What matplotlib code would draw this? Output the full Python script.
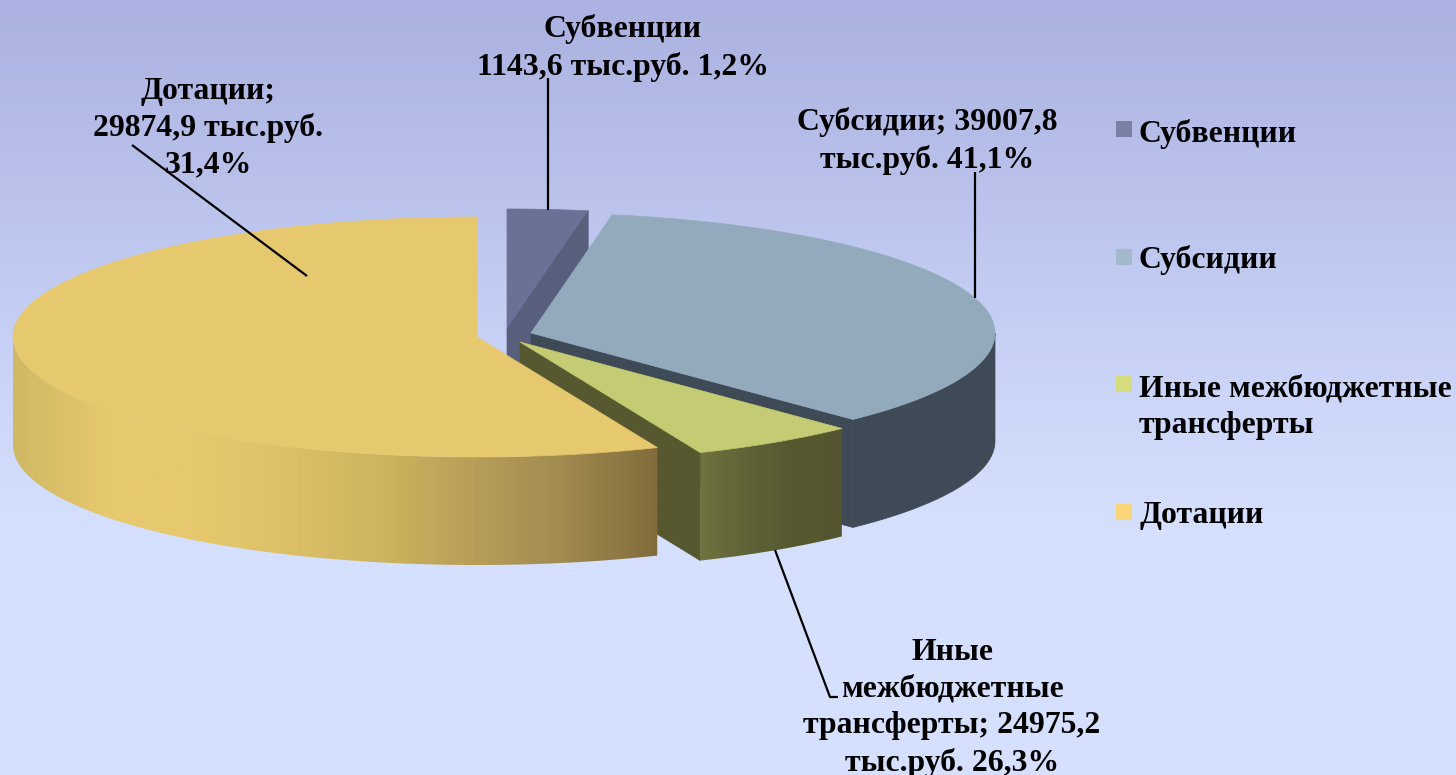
"""
3D-look exploded pie of budget transfers, drawn by hand since matplotlib has no such pie.
"""
import numpy as np
import matplotlib
matplotlib.use("Agg")
import matplotlib.pyplot as plt
from matplotlib.colors import LinearSegmentedColormap
from matplotlib.patches import Polygon, Rectangle

plt.rcParams["font.family"] = ["Liberation Serif", "DejaVu Serif"]

categories = ["Субвенции", "Субсидии", "Иные межбюджетные\nтрансферты", "Дотации"]
amounts = ["1143,6", "39007,8", "24975,2", "29874,9"]
percents = ["1,2%", "41,1%", "26,3%", "31,4%"]
# share of the circle each slice really takes on the picture (it differs from the labels)
drawn_shares = [2.8, 35.0, 5.85, 56.35]

top_colors = ["#6a7197", "#93aabd", "#c4cb73", "#e6c86e"]
cut_colors = ["#585f7d", "#3e4a55", "#585830", "#6e5c30"]
legend_colors = ["#7880a5", "#a3b8cb", "#d4dc7d", "#fad678"]

W, H = 1456, 775
RX, RY, DEPTH = 464, 120, 108
FONT = 22.9
apexes = [(507, 329), (531, 333), (520, 342), (477, 337)]


def arc(apex, a0, a1, drop=0):
    t = np.radians(np.linspace(a0, a1, 200))
    return np.column_stack([apex[0] + RX * np.cos(t), apex[1] - RY * np.sin(t) + drop])


def wall_points(apex, a0, a1):
    lo, hi = max(a0, a1), min(a0, a1)
    return np.vstack([arc(apex, lo, hi), arc(apex, hi, lo, DEPTH)])


def wall(ax, apex, a0, a1, stops):
    # outer wall of a slice, painted with a horizontal gradient
    pts = wall_points(apex, a0, a1)
    x0, x1 = pts[:, 0].min(), pts[:, 0].max()
    cmap = LinearSegmentedColormap.from_list("w", stops)
    im = ax.imshow(np.linspace(0, 1, 400)[None, :], cmap=cmap, aspect="auto", zorder=ax_z[0],
                   extent=(x0, x1, pts[:, 1].max(), pts[:, 1].min()))
    im.set_clip_path(Polygon(pts, transform=ax.transData))
    ax_z[0] += 1


def poly(ax, pts, color):
    ax.add_patch(Polygon(pts, closed=True, fc=color, ec=color, lw=0.5, zorder=ax_z[0]))
    ax_z[0] += 1


def cut(apex, angle):
    e = arc(apex, angle, angle)[0]
    return [apex, tuple(e), (e[0], e[1] + DEPTH), (apex[0], apex[1] + DEPTH)]


fig = plt.figure(figsize=(W / 100, H / 100), dpi=100)
ax = fig.add_axes([0, 0, 1, 1])
ax.axis("off")
ax_z = [2]

bg = LinearSegmentedColormap.from_list(
    "bg", [(0, "#abb2e1"), (0.13, "#b2bae6"), (0.5, "#cbd5f8"), (0.68, "#d5e0fe"), (1, "#d5e0fe")])
ax.imshow(np.linspace(0, 1, H)[:, None], cmap=bg, aspect="auto", extent=(0, W, H, 0), zorder=0)

edges = 90 - np.cumsum([0] + drawn_shares) * 3.6

# slice 0, at the back
a0, a1 = edges[0], edges[1]
poly(ax, np.vstack([[apexes[0]], arc(apexes[0], a0, a1)]), top_colors[0])
poly(ax, cut(apexes[0], a1), cut_colors[0])

# slice 1
a0, a1 = edges[1], edges[2]
poly(ax, cut(apexes[1], a1), cut_colors[1])
poly(ax, wall_points(apexes[1], 0, a1), cut_colors[1])
poly(ax, np.vstack([[apexes[1]], arc(apexes[1], a0, a1)]), top_colors[1])

# slice 2
a0, a1 = edges[2], edges[3]
poly(ax, cut(apexes[2], a1), cut_colors[2])
wall(ax, apexes[2], a0, a1, ["#6f733f", "#5f6337", "#575730", "#55552f"])
poly(ax, np.vstack([[apexes[2]], arc(apexes[2], a0, a1)]), top_colors[2])

# slice 3, in front
a0, a1 = edges[3], edges[4]
wall(ax, apexes[3], -180, a0,
     ["#d0b864", "#e6c86e", "#e6c86e", "#dcc068", "#cdb45e", "#b89e58", "#a08a50", "#826c3c"])
poly(ax, np.vstack([[apexes[3]], arc(apexes[3], a0, a1)]), top_colors[3])

# leader lines
leaders = [[(548, 78), (548, 210)], [(975, 172), (975, 298)],
           [(775, 550), (830, 697), (838, 697)], [(132, 145), (307, 276)]]
for line in leaders:
    xs, ys = zip(*line)
    ax.plot(xs, ys, color="black", lw=1.6, zorder=50, solid_capstyle="butt")

# data labels
label_text = [
    f"Субвенции\n{amounts[0]} тыс.руб. {percents[0]}",
    f"Субсидии; {amounts[1]}\nтыс.руб. {percents[1]}",
    f"Иные\nмежбюджетные\nтрансферты; {amounts[2]}\nтыс.руб. {percents[2]}",
    f"Дотации;\n{amounts[3]} тыс.руб.\n{percents[3]}",
]
label_pos = [(623, 48), (927, 141), (952, 708), (208, 128)]
for txt, (x, y) in zip(label_text, label_pos):
    ax.text(x, y, txt, ha="center", va="center", fontsize=FONT, fontweight="bold",
            color="black", linespacing=1.33, zorder=60)

# legend
marker_y = [129, 257, 384, 512]
text_baseline = [142, 268, 433, 523]
for name, col, my, ty in zip(categories, legend_colors, marker_y, text_baseline):
    ax.add_patch(Rectangle((1116, my - 8), 16, 16, fc=col, ec="none", zorder=60))
    ax.text(1139, ty, name, ha="left", va="baseline", fontsize=FONT, fontweight="bold",
            color="black", linespacing=1.33, zorder=60)

ax.set_xlim(0, W)
ax.set_ylim(H, 0)
fig.savefig("out.png", dpi=100)
